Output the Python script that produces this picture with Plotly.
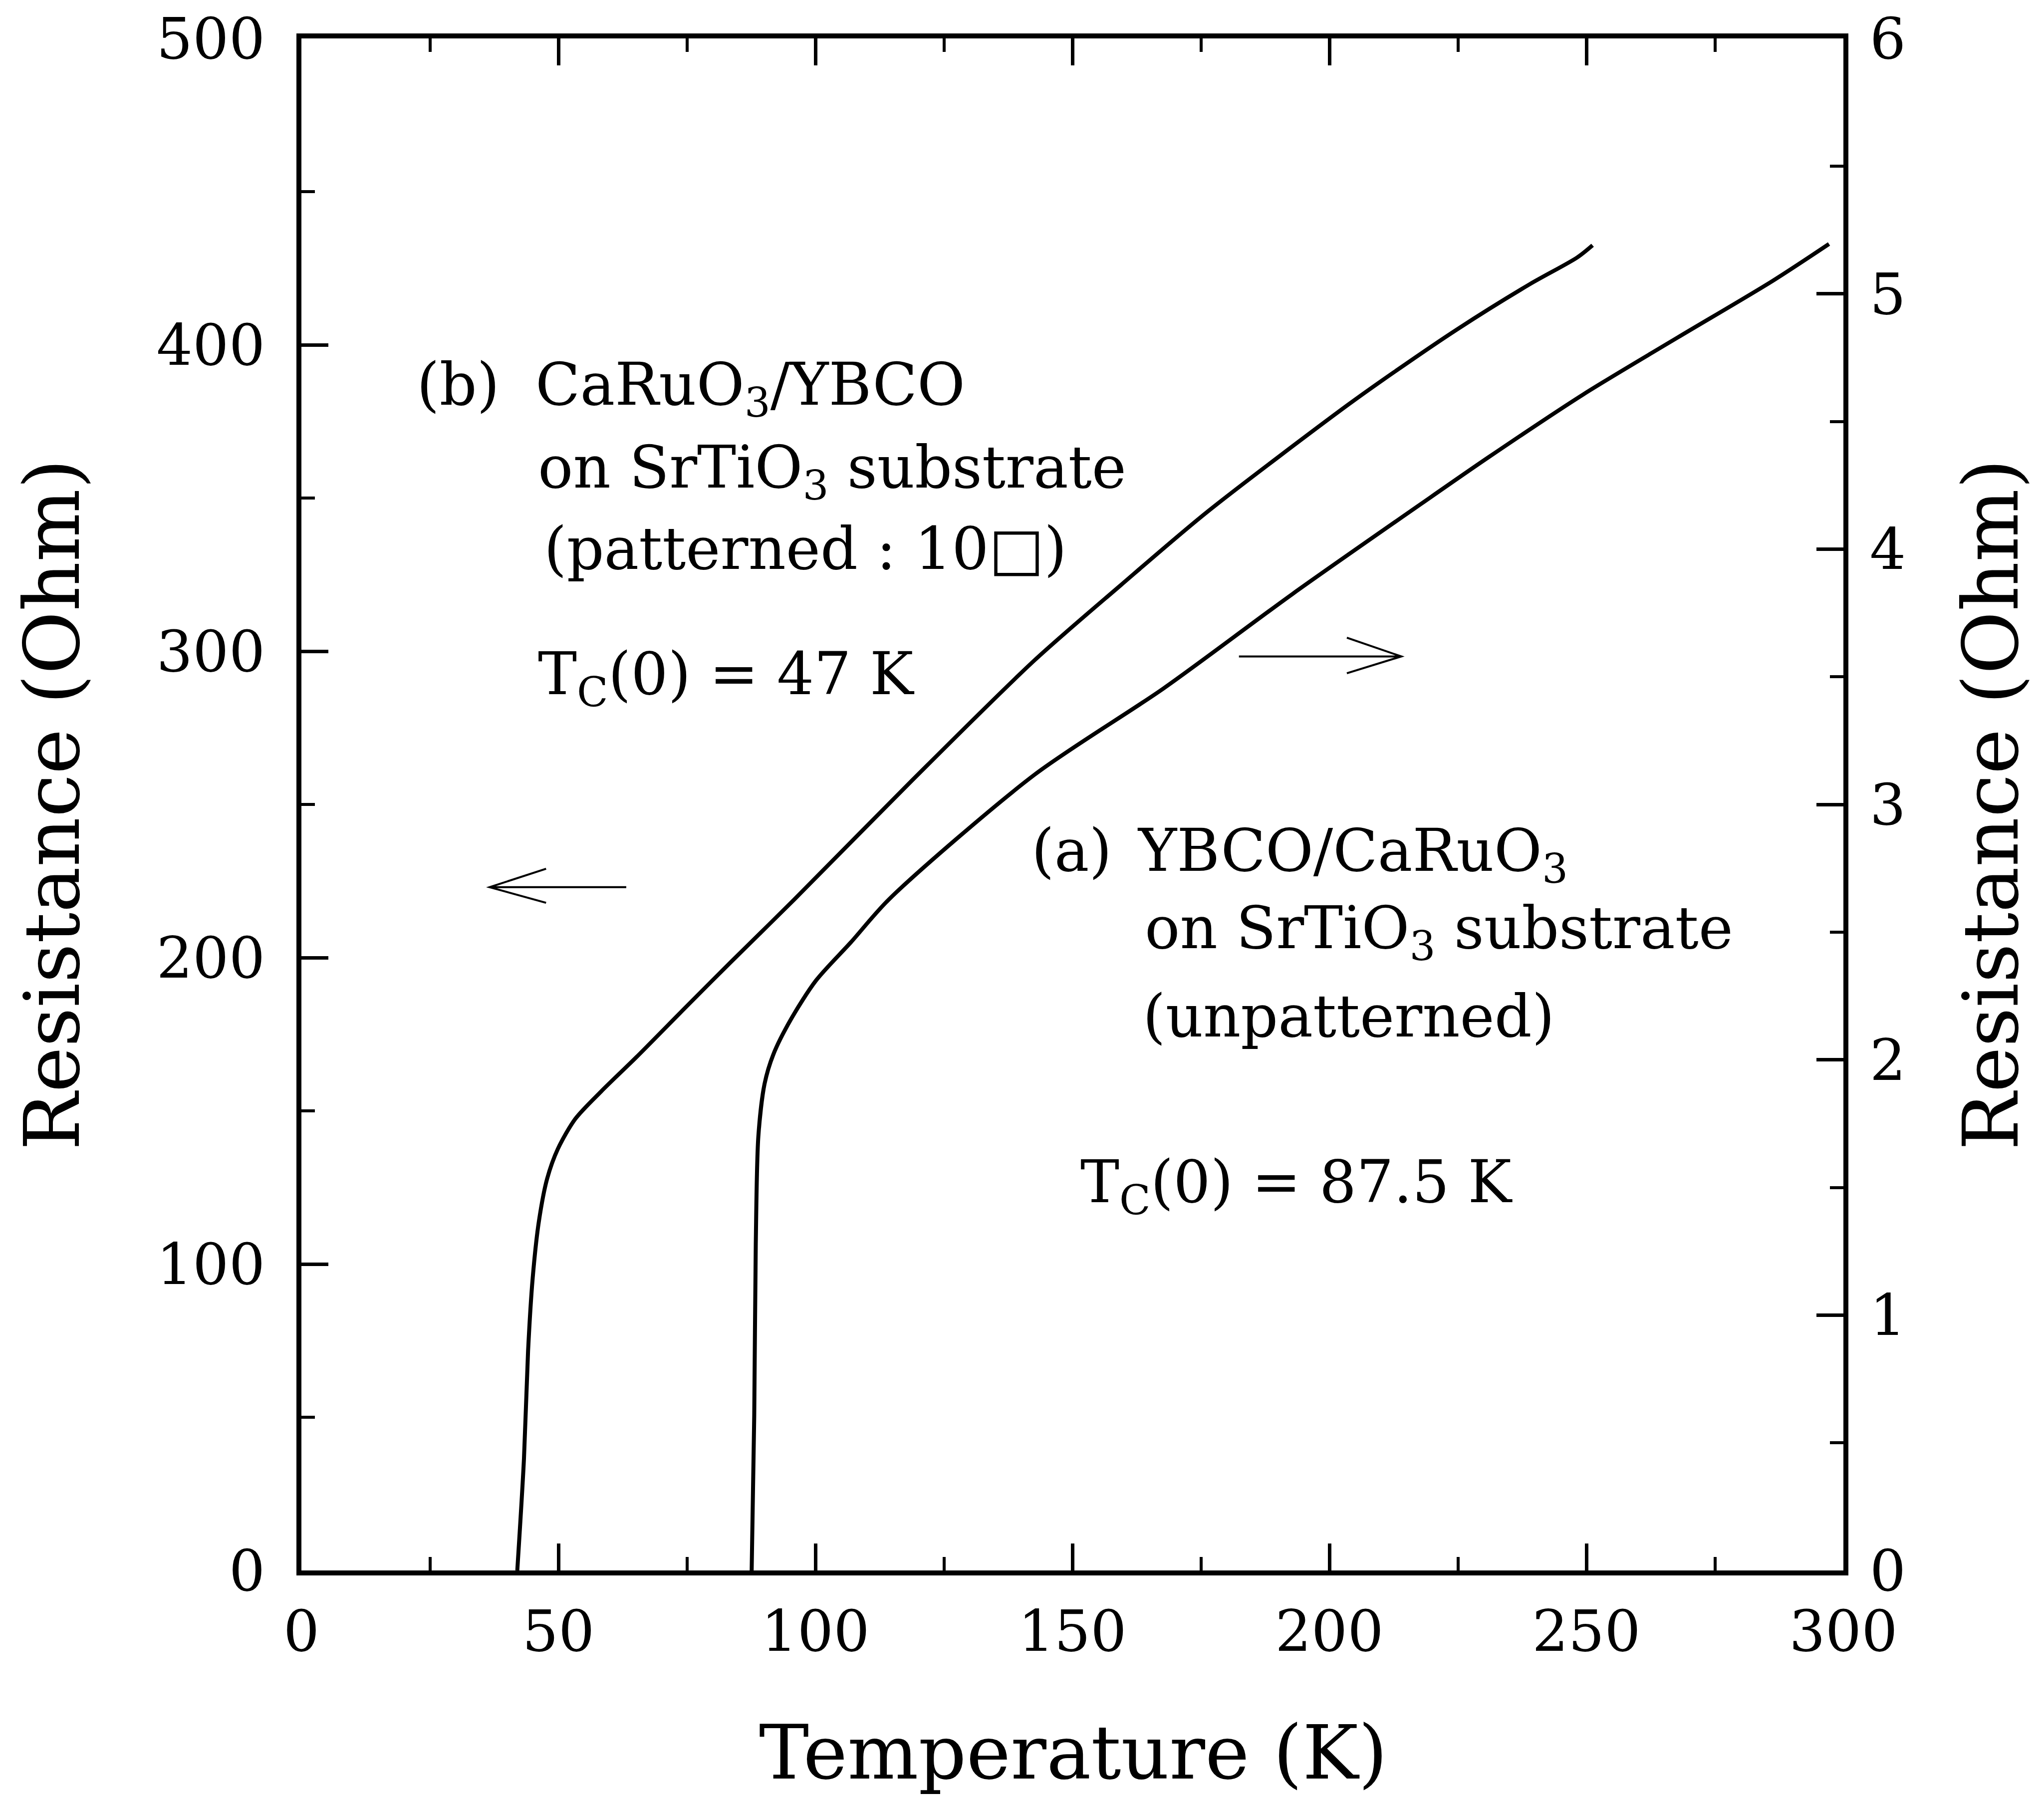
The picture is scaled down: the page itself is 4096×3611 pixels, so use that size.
import plotly.graph_objects as go

# ---------------- data ----------------
# (b) CaRuO3/YBCO on SrTiO3 (patterned) -> left axis, Ohm
temp_b = [42.0, 43.3, 44.1, 45.0, 46.2, 47.8, 49.9, 53.3, 58.3, 65.1, 75.0, 83.4,
          95.9, 118.9, 142.6, 159.3, 176.1, 203.6, 212.5, 224.8, 239.0, 248.2, 251.2]
res_b = [0, 36.5, 71.7, 95.5, 113.9, 127.8, 137.6, 147.4, 156.3, 167.4, 184.2, 198.3,
         219.0, 258.0, 297.0, 321.4, 345.3, 380.4, 391.0, 405.0, 419.8, 428.5, 432.5]

# (a) YBCO/CaRuO3 on SrTiO3 (unpatterned) -> right axis, Ohm
temp_a = [87.6, 88.1, 88.4, 88.9, 90.1, 91.8, 95.2, 100.1, 106.9, 114.4, 142.6, 167.7,
          192.8, 217.9, 230.9, 249.4, 267.7, 286.2, 297.2]
res_a = [0, 0.607, 1.28, 1.70, 1.905, 2.02, 2.157, 2.31, 2.46, 2.63, 3.116, 3.454,
         3.824, 4.178, 4.359, 4.606, 4.828, 5.05, 5.195]

x_ticks = [0, 50, 100, 150, 200, 250, 300]
y_left_ticks = [0, 100, 200, 300, 400, 500]
y_right_ticks = [0, 1, 2, 3, 4, 5, 6]

# arrows (data coordinates, left axis units): shaft start, tip, barb ends
arrow_left_x = [63.2, 36.6, 47.6, 47.6]
arrow_left_y = [223.0, 223.0, 229.0, 217.9]
arrow_right_x = [182.4, 214.0, 203.4, 203.4]
arrow_right_y = [298.3, 298.3, 304.4, 292.8]

# ---------------- layout geometry ----------------
WIDTH, HEIGHT = 4096, 3611
ML, MR, MT, MB = 604, 402, 77, 464
PW = WIDTH - ML - MR
PH = HEIGHT - MT - MB
FONT = "DejaVu Serif"
BLACK = "black"


def paper(xpx, ypx):
    return (xpx - ML) / PW, (MT + PH - ypx) / PH


fig = go.Figure()
fig.add_trace(go.Scatter(x=temp_b, y=res_b, mode="lines", yaxis="y",
                         line=dict(color=BLACK, width=8, shape="spline", smoothing=0.8),
                         showlegend=False, hoverinfo="skip"))
fig.add_trace(go.Scatter(x=temp_a, y=res_a, mode="lines", yaxis="y2",
                         line=dict(color=BLACK, width=8, shape="spline", smoothing=0.8),
                         showlegend=False, hoverinfo="skip"))


def arrow_path(xs, ys):
    return (f"M {xs[0]},{ys[0]} L {xs[1]},{ys[1]} "
            f"M {xs[2]},{ys[2]} L {xs[1]},{ys[1]} L {xs[3]},{ys[3]}")


shapes = [
    dict(type="path", xref="x", yref="y", path=arrow_path(arrow_left_x, arrow_left_y),
         line=dict(color=BLACK, width=4)),
    dict(type="path", xref="x", yref="y", path=arrow_path(arrow_right_x, arrow_right_y),
         line=dict(color=BLACK, width=4)),
]

TS = 117  # annotation text size
ASC = 0.928

texts = [
    ("(b)", 833, 809),
    ("CaRuO<sub>3</sub>/YBCO", 1071, 809),
    ("on SrTiO<sub>3</sub> substrate", 1076, 975),
    ("(patterned : 10\u25a1)", 1088, 1138),
    ("T<sub>C</sub>(0) = 47 K", 1076, 1389),
    ("(a)", 2065, 1743),
    ("YBCO/CaRuO<sub>3</sub>", 2277, 1743),
    ("on SrTiO<sub>3</sub> substrate", 2292, 1898),
    ("(unpatterned)", 2288, 2075),
    ("T<sub>C</sub>(0) = 87.5 K", 2163, 2407),
]

annotations = []
for txt, xl, base in texts:
    xp, yp = paper(xl, base - ASC * TS)
    annotations.append(dict(text=txt, x=xp, y=yp, xref="paper", yref="paper",
                            xanchor="left", yanchor="top", showarrow=False,
                            font=dict(family=FONT, size=TS, color=BLACK)))

TITLE = 150
xp, yp = paper(2150, 3512)
annotations.append(dict(text="Temperature (K)", x=xp, y=yp, xref="paper", yref="paper",
                        xanchor="center", yanchor="middle", showarrow=False,
                        font=dict(family=FONT, size=TITLE, color=BLACK)))
xp, yp = paper(104, 1613)
annotations.append(dict(text="Resistance (Ohm)", x=xp, y=yp, xref="paper", yref="paper",
                        xanchor="center", yanchor="middle", showarrow=False, textangle=-90,
                        font=dict(family=FONT, size=TITLE + 4, color=BLACK)))
xp, yp = paper(3989, 1613)
annotations.append(dict(text="Resistance (Ohm)", x=xp, y=yp, xref="paper", yref="paper",
                        xanchor="center", yanchor="middle", showarrow=False, textangle=-90,
                        font=dict(family=FONT, size=TITLE + 4, color=BLACK)))

TICKFONT = dict(family=FONT, size=114, color=BLACK)
common = dict(showgrid=False, zeroline=False, showline=True, linecolor=BLACK, linewidth=10,
              ticks="inside", ticklen=54, tickwidth=7, tickcolor=BLACK, tickfont=TICKFONT)

fig.update_layout(
    width=WIDTH, height=HEIGHT,
    margin=dict(l=ML, r=MR, t=MT, b=MB, pad=0),
    paper_bgcolor="white", plot_bgcolor="white",
    showlegend=False,
    xaxis=dict(range=[0, 300], tickvals=x_ticks, mirror="ticks", ticklabelstandoff=14,
               minor=dict(dtick=25, tick0=0, ticks="inside", ticklen=27, tickwidth=6,
                          tickcolor=BLACK, showgrid=False),
               **common),
    yaxis=dict(range=[0, 500], tickvals=y_left_ticks, ticklabelstandoff=40,
               minor=dict(dtick=50, tick0=0, ticks="inside", ticklen=27, tickwidth=6,
                          tickcolor=BLACK, showgrid=False),
               **common),
    yaxis2=dict(range=[0, 6], tickvals=y_right_ticks, overlaying="y", side="right",
                ticklabelstandoff=20,
                minor=dict(dtick=0.5, tick0=0, ticks="inside", ticklen=27, tickwidth=6,
                           tickcolor=BLACK, showgrid=False),
                **common),
    shapes=shapes,
    annotations=annotations,
)

fig.write_html("out.html")
